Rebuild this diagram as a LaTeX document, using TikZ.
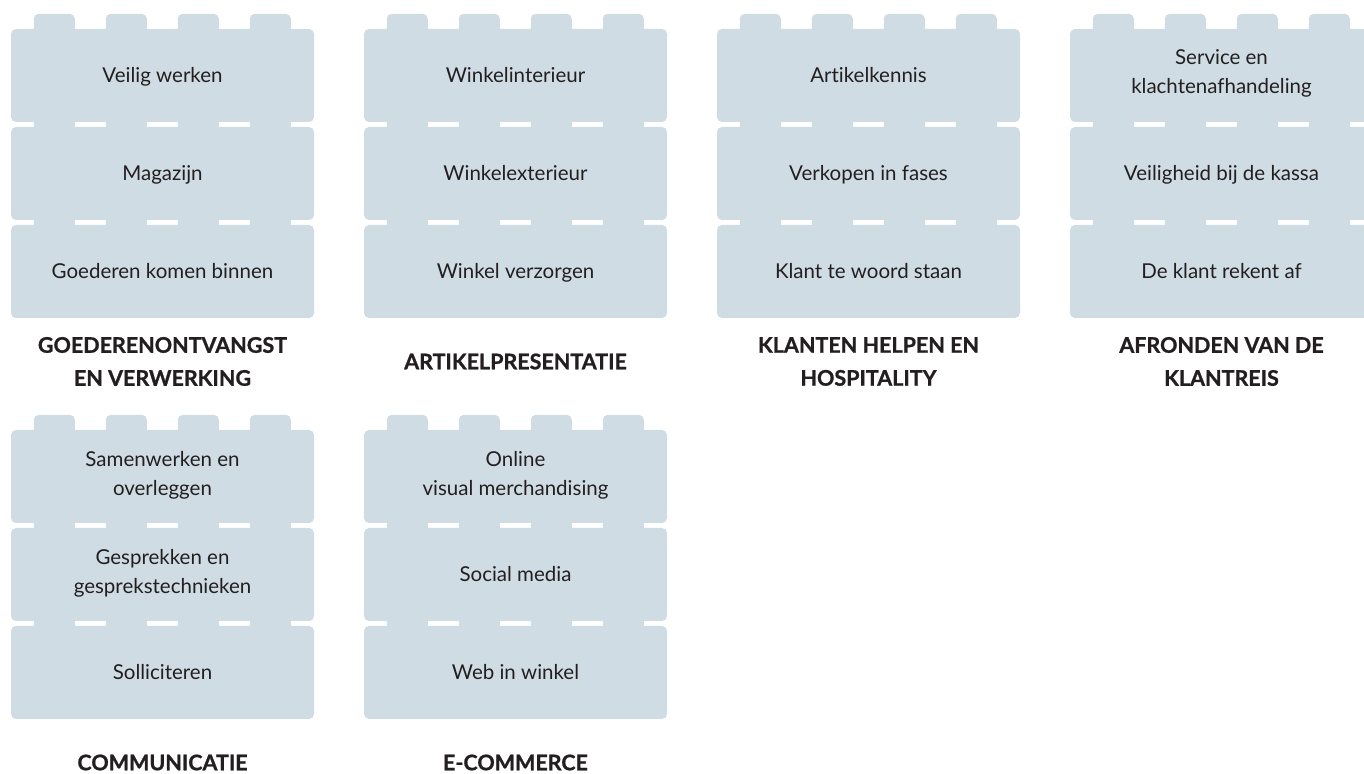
\documentclass[tikz,border=0pt]{standalone}
\usepackage{fontspec}
\setmainfont{Lato}[Ligatures=NoCommon,BoldFeatures={FakeBold=1}]
\definecolor{steen}{HTML}{CFDCE4}
\definecolor{inkt}{HTML}{231F20}
\newcommand\steun{\rule[-7pt]{0pt}{29pt}}
\begin{document}
\begin{tikzpicture}[x=1pt,y=1pt,line join=round,
	blok/.style={fill=steen,rounded corners=5pt,minimum width=303pt,minimum height=93pt,inner sep=0pt,align=center,text=inkt,font=\fontsize{20.5}{29}\selectfont,
		execute at begin node=\steun,execute at end node=\steun},
	titel/.style={align=center,text=inkt,font=\fontsize{21.5}{33}\selectfont\bfseries}]
	\useasboundingbox (0,0) rectangle (1364,773);
	\clip (0,0) rectangle (1364,773);
	\foreach \k/\cx/\cy/\a/\b/\c/\t in {
		gv/162.5/697.5/{Veilig werken}/{Magazijn}/{Goederen komen binnen}/{GOEDERENONTVANGST\\EN VERWERKING},
		ap/515.5/697.5/{Winkelinterieur}/{Winkelexterieur}/{Winkel verzorgen}/{ARTIKELPRESENTATIE},
		kh/868.5/697.5/{Artikelkennis}/{Verkopen in fases}/{Klant te woord staan}/{KLANTEN HELPEN EN\\HOSPITALITY},
		ak/1221.5/697.5/{Service en\\klachtenafhandeling}/{Veiligheid bij de kassa}/{De klant rekent af}/{AFRONDEN VAN DE\\KLANTREIS},
		co/162.5/296.5/{Samenwerken en\\overleggen}/{Gesprekken en\\gesprekstechnieken}/{Solliciteren}/{COMMUNICATIE},
		ec/515.5/296.5/{Online\\visual merchandising}/{Social media}/{Web in winkel}/{E-COMMERCE}}{
		\foreach \j/\l in {1/\a,2/\b,3/\c}{
			\node[blok] (\k\j) at (\cx,\cy-98*\j+98) {\l};
			% noppen op elke steen
			\foreach \s in {0,...,3}
				\fill[steen,rounded corners=5pt] ([xshift=23pt+72pt*\s,yshift=-6pt]\k\j.north west) rectangle +(41,21);
		}
		\node[titel] (\k t) at (\cx,\cy-286) {\t};
	}
\end{tikzpicture}
\end{document}
